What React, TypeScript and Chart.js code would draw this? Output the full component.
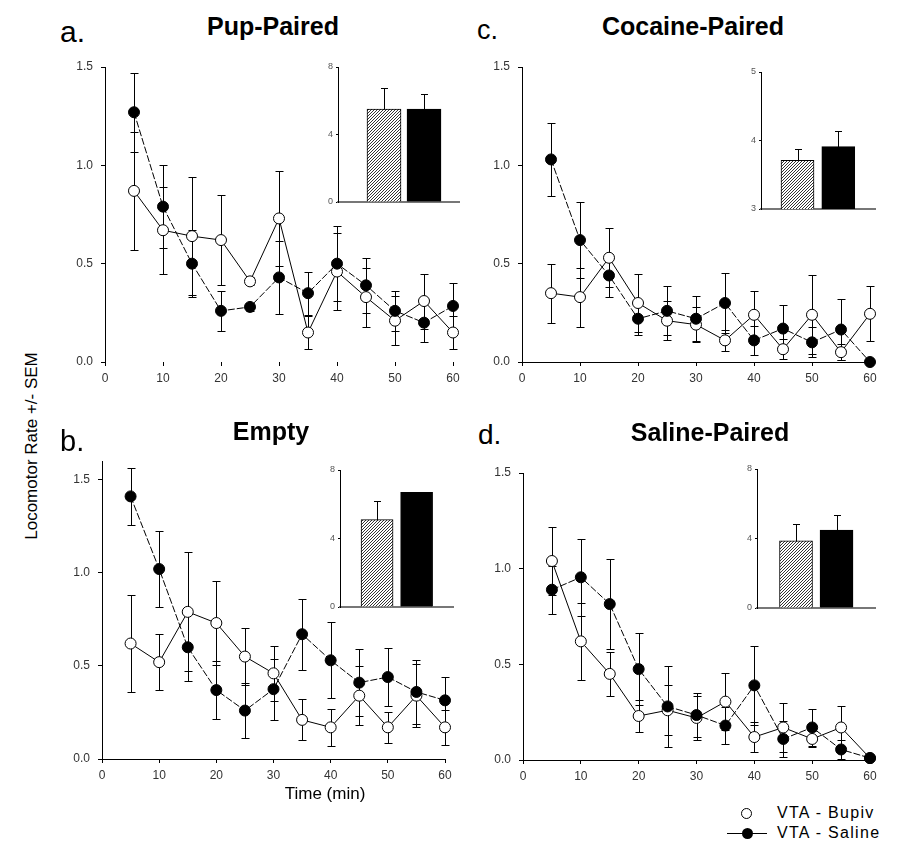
import React, { useEffect, useRef } from 'react';
import { Chart, registerables } from 'chart.js';

Chart.register(...registerables);

// ---------- data ----------
const times = [5, 10, 15, 20, 25, 30, 35, 40, 45, 50, 55, 60];

// a. Pup-Paired
const bupivA = [0.87, 0.67, 0.64, 0.62, 0.41, 0.73, 0.15, 0.46, 0.33, 0.21, 0.31, 0.15];
const bupivAErr = [0.3, 0.22, 0.3, 0.23, 0.02, 0.24, 0.085, 0.195, 0.15, 0.125, 0.14, 0.085];
const salineA = [1.27, 0.79, 0.5, 0.26, 0.28, 0.43, 0.35, 0.5, 0.39, 0.26, 0.2, 0.285];
const salineAErr = [0.2, 0.21, 0.17, 0.1, 0.02, 0.185, 0.11, 0.19, 0.14, 0.1, 0.1, 0.115];

// c. Cocaine-Paired
const bupivC = [0.35, 0.33, 0.53, 0.3, 0.21, 0.19, 0.11, 0.24, 0.065, 0.24, 0.05, 0.245];
const bupivCErr = [0.15, 0.15, 0.15, 0.146, 0.1, 0.09, 0.055, 0.12, 0.05, 0.2, 0.04, 0.14];
const salineC = [1.03, 0.62, 0.44, 0.22, 0.26, 0.22, 0.3, 0.11, 0.17, 0.1, 0.165, 0.0];
const salineCErr = [0.185, 0.195, 0.11, 0.085, 0.124, 0.115, 0.152, 0.075, 0.12, 0.077, 0.155, 0.0];

// b. Empty
const bupivB = [0.62, 0.52, 0.79, 0.73, 0.55, 0.46, 0.21, 0.17, 0.34, 0.17, 0.34, 0.17];
const bupivBErr = [0.26, 0.15, 0.32, 0.225, 0.155, 0.148, 0.11, 0.1, 0.16, 0.085, 0.17, 0.095];
const salineB = [1.41, 1.02, 0.6, 0.37, 0.26, 0.375, 0.67, 0.53, 0.41, 0.44, 0.36, 0.315];
const salineBErr = [0.155, 0.205, 0.18, 0.155, 0.148, 0.163, 0.19, 0.205, 0.18, 0.155, 0.17, 0.125];

// d. Saline-Paired
const bupivD = [1.04, 0.62, 0.45, 0.23, 0.26, 0.22, 0.305, 0.12, 0.17, 0.11, 0.17, 0.01];
const bupivDErr = [0.18, 0.2, 0.115, 0.085, 0.13, 0.115, 0.15, 0.078, 0.126, 0.04, 0.11, 0.0];
const salineD = [0.89, 0.955, 0.815, 0.475, 0.28, 0.235, 0.18, 0.39, 0.11, 0.17, 0.055, 0.01];
const salineDErr = [0.125, 0.2, 0.235, 0.19, 0.21, 0.115, 0.096, 0.205, 0.093, 0.095, 0.05, 0.0];

// inset bars: [VTA - Bupiv, VTA - Saline]
const insetA = [5.5, 5.5];
const insetAErr = [1.25, 0.9];
const insetB = [5.1, 6.7];
const insetBErr = [1.1, 0];
const insetC = [3.71, 3.91];
const insetCErr = [0.16, 0.23];
const insetD = [3.86, 4.49];
const insetDErr = [0.97, 0.86];

const FONT = 'Arial, "Liberation Sans", Helvetica, sans-serif';

// ---------- plugins ----------
const errorBarPlugin = {
  id: 'errorBars',
  draw(chart: any) {
    const ctx = chart.ctx;
    const ys = chart.scales.y;
    const opts = chart.options.plugins.errorBars || {};
    const half = opts.cap || 4;
    chart.data.datasets.forEach((ds: any, i: number) => {
      const errs = ds.errors;
      if (!errs) return;
      const meta = chart.getDatasetMeta(i);
      ctx.save();
      ctx.strokeStyle = '#000';
      ctx.lineWidth = 1;
      meta.data.forEach((el: any, j: number) => {
        const raw = ds.data[j];
        const v = typeof raw === 'number' ? raw : raw.y;
        const e = errs[j];
        if (!e) return;
        const x = Math.round(el.x) + 0.5;
        const yTop = Math.round(ys.getPixelForValue(v + e)) + 0.5;
        const yBot = Math.round(opts.upOnly ? ys.getPixelForValue(v) : ys.getPixelForValue(v - e)) + 0.5;
        ctx.beginPath();
        ctx.moveTo(x, yTop);
        ctx.lineTo(x, yBot);
        ctx.moveTo(x - half, yTop);
        ctx.lineTo(x + half, yTop);
        if (!opts.upOnly) {
          ctx.moveTo(x - half, yBot);
          ctx.lineTo(x + half, yBot);
        }
        ctx.stroke();
      });
      ctx.restore();
    });
  },
  beforeDatasetsDraw(chart: any) {
    const opts = chart.options.plugins.errorBars || {};
    if (!opts.after) errorBarPlugin.draw(chart);
  },
  afterDatasetsDraw(chart: any) {
    const opts = chart.options.plugins.errorBars || {};
    if (opts.after) errorBarPlugin.draw(chart);
  },
};

function makeHatch(): any {
  const c = document.createElement('canvas');
  c.width = 3;
  c.height = 3;
  const g = c.getContext('2d')!;
  g.fillStyle = '#fff';
  g.fillRect(0, 0, 3, 3);
  g.strokeStyle = '#333';
  g.lineWidth = 1;
  g.beginPath();
  g.moveTo(0, 3);
  g.lineTo(3, 0);
  g.moveTo(-1, 1);
  g.lineTo(1, -1);
  g.moveTo(2, 4);
  g.lineTo(4, 2);
  g.stroke();
  return g.createPattern(c, 'repeat');
}

type Area = { left: number; right: number; top: number; bottom: number };

// ---------- main panel ----------
const YW = 45, XH = 30, PT = 10, PR = 15;

function MainPanel(props: {
  area: Area; yMax: number; xBorder: boolean;
  bupiv: number[]; bupivErr: number[]; saline: number[]; salineErr: number[];
}) {
  const ref = useRef<HTMLCanvasElement>(null);
  const { area } = props;
  const w = area.right - area.left + YW + PR;
  const h = area.bottom - area.top + PT + XH;
  useEffect(() => {
    const chart = new Chart(ref.current as HTMLCanvasElement, {
      type: 'line',
      data: {
        datasets: [
          {
            label: 'VTA - Saline',
            data: times.map((t, i) => ({ x: t, y: props.saline[i] })),
            errors: props.salineErr,
            borderColor: '#000',
            borderWidth: 1,
            borderDash: [7, 2],
            pointRadius: 5.5,
            pointBackgroundColor: '#000',
            pointBorderColor: '#000',
            pointBorderWidth: 1,
            tension: 0,
            clip: false,
          } as any,
          {
            label: 'VTA - Bupiv',
            data: times.map((t, i) => ({ x: t, y: props.bupiv[i] })),
            errors: props.bupivErr,
            borderColor: '#000',
            borderWidth: 1,
            pointRadius: 5.5,
            pointBackgroundColor: '#fff',
            pointBorderColor: '#000',
            pointBorderWidth: 1,
            tension: 0,
            clip: false,
          } as any,
        ],
      },
      options: {
        animation: false,
        responsive: false,
        devicePixelRatio: 1,
        layout: { padding: { left: 0, top: PT, right: PR, bottom: 0 } },
        plugins: {
          legend: { display: false },
          tooltip: { enabled: false },
          errorBars: { cap: 4 },
        } as any,
        scales: {
          x: {
            type: 'linear',
            min: 0,
            max: 60,
            ticks: { stepSize: 10, color: '#333', font: { family: FONT, size: 12 }, padding: 5, maxRotation: 0, autoSkip: false },
            grid: { drawOnChartArea: false, drawTicks: true, tickLength: 4, color: '#000' },
            border: { display: props.xBorder, color: '#000', width: 1 },
            afterFit: (s: any) => { s.height = XH; s.paddingLeft = 0; s.paddingRight = 0; },
          },
          y: {
            type: 'linear',
            min: 0,
            max: props.yMax,
            ticks: {
              stepSize: 0.5,
              color: '#333',
              font: { family: FONT, size: 12 },
              padding: 8,
              callback: (v: any) => Number(v).toFixed(1),
            },
            grid: { drawOnChartArea: false, drawTicks: true, tickLength: 4, color: '#000' },
            border: { display: true, color: '#000', width: 1 },
            afterBuildTicks: (s: any) => {
              s.ticks = s.ticks.filter((t: any) => Math.abs(t.value * 2 - Math.round(t.value * 2)) < 1e-6);
            },
            afterFit: (s: any) => { s.width = YW; s.paddingTop = 0; s.paddingBottom = 0; },
          },
        },
      } as any,
      plugins: [errorBarPlugin as any],
    });
    return () => chart.destroy();
  }, []);
  return (
    <canvas
      ref={ref}
      width={w}
      height={h}
      style={{ position: 'absolute', left: area.left - YW, top: area.top - PT, width: w, height: h }}
    />
  );
}

// ---------- inset ----------
const IYW = 20, IXH = 4, IPT = 6, IPR = 2;

function Inset(props: {
  area: Area; xMin: number; xMax: number; yMin: number; yMax: number; yStep: number;
  values: number[]; errors: number[]; barThickness: number;
}) {
  const ref = useRef<HTMLCanvasElement>(null);
  const { area } = props;
  const w = area.right - area.left + IYW + IPR;
  const h = area.bottom - area.top + IPT + IXH;
  useEffect(() => {
    const hatch = makeHatch();
    const chart = new Chart(ref.current as HTMLCanvasElement, {
      type: 'bar',
      data: {
        datasets: [
          {
            data: props.values.map((v, i) => ({ x: i + 1, y: v })),
            errors: props.errors,
            backgroundColor: [hatch, '#000'],
            borderColor: '#000',
            borderWidth: 1,
            barThickness: props.barThickness,
          } as any,
        ],
      },
      options: {
        animation: false,
        responsive: false,
        devicePixelRatio: 1,
        layout: { padding: { left: 0, top: IPT, right: IPR, bottom: 0 } },
        plugins: {
          legend: { display: false },
          tooltip: { enabled: false },
          errorBars: { cap: 3.5, upOnly: true, after: true },
        } as any,
        scales: {
          x: {
            type: 'linear',
            offset: false,
            min: props.xMin,
            max: props.xMax,
            ticks: { display: false, stepSize: 1 },
            grid: { display: false, offset: false },
            border: { display: true, color: '#777', width: 2 },
            afterFit: (s: any) => { s.height = IXH; s.paddingLeft = 0; s.paddingRight = 0; },
          },
          y: {
            type: 'linear',
            min: props.yMin,
            max: props.yMax,
            ticks: { stepSize: props.yStep, color: '#555', font: { family: FONT, size: 9 }, padding: 3 },
            grid: { drawOnChartArea: false, drawTicks: true, tickLength: 2, color: '#000' },
            border: { display: true, color: '#000', width: 1 },
            afterFit: (s: any) => { s.width = IYW; s.paddingTop = 0; s.paddingBottom = 0; },
          },
        },
      } as any,
      plugins: [errorBarPlugin as any],
    });
    return () => chart.destroy();
  }, []);
  return (
    <canvas
      ref={ref}
      width={w}
      height={h}
      style={{ position: 'absolute', left: area.left - IYW, top: area.top - IPT, width: w, height: h }}
    />
  );
}

// ---------- text helpers ----------
function Txt(props: { text: string; x: number; baseline: number; size: number; bold?: boolean; align?: 'left' | 'center'; spacing?: number }) {
  const { text, x, baseline, size, bold, align, spacing } = props;
  const top = baseline - 0.8465 * size;
  const style: any = {
    position: 'absolute',
    top,
    fontFamily: FONT,
    fontSize: size,
    lineHeight: `${size}px`,
    fontWeight: bold ? 'bold' : 'normal',
    whiteSpace: 'nowrap',
    color: '#000',
    letterSpacing: spacing ? `${spacing}px` : 'normal',
  };
  if (align === 'center') {
    style.left = x - 200;
    style.width = 400;
    style.textAlign = 'center';
  } else {
    style.left = x;
  }
  return <div style={style}>{text}</div>;
}

export default function App() {
  return (
    <div style={{ position: 'absolute', left: 0, top: 0, width: 908, height: 851, background: '#fff', overflow: 'hidden' }}>
      <MainPanel area={{ left: 105, right: 453, top: 67, bottom: 362 }} yMax={1.5} xBorder={false}
        bupiv={bupivA} bupivErr={bupivAErr} saline={salineA} salineErr={salineAErr} />
      <MainPanel area={{ left: 522, right: 870, top: 67, bottom: 362 }} yMax={1.5} xBorder={true}
        bupiv={bupivC} bupivErr={bupivCErr} saline={salineC} salineErr={salineCErr} />
      <MainPanel area={{ left: 102, right: 445, top: 461, bottom: 759 }} yMax={1.6} xBorder={true}
        bupiv={bupivB} bupivErr={bupivBErr} saline={salineB} salineErr={salineBErr} />
      <MainPanel area={{ left: 523, right: 870, top: 473, bottom: 760 }} yMax={1.5} xBorder={true}
        bupiv={bupivD} bupivErr={bupivDErr} saline={salineD} salineErr={salineDErr} />

      <Inset area={{ left: 338, right: 459, top: 67, bottom: 202 }} xMin={-0.15} xMax={2.875} yMin={0} yMax={8} yStep={4}
        values={insetA} errors={insetAErr} barThickness={34} />
      <Inset area={{ left: 761, right: 875, top: 72, bottom: 209 }} xMin={0.105} xMax={2.9} yMin={3} yMax={5} yStep={1}
        values={insetC} errors={insetCErr} barThickness={33} />
      <Inset area={{ left: 340, right: 453, top: 470, bottom: 607 }} xMin={0.063} xMax={2.92} yMin={0} yMax={8} yStep={4}
        values={insetB} errors={insetBErr} barThickness={32} />
      <Inset area={{ left: 757, right: 875, top: 469, bottom: 608 }} xMin={0.037} xMax={2.95} yMin={0} yMax={8} yStep={4}
        values={insetD} errors={insetDErr} barThickness={33} />

      <Txt text="a." x={60} baseline={42} size={30} />
      <Txt text="c." x={477} baseline={40} size={27} />
      <Txt text="b." x={60} baseline={452} size={29} />
      <Txt text="d." x={478} baseline={445} size={28} />

      <Txt text="Pup-Paired" x={273} baseline={35} size={25} bold align="center" />
      <Txt text="Cocaine-Paired" x={693} baseline={35} size={25} bold align="center" />
      <Txt text="Empty" x={271} baseline={440} size={25} bold align="center" />
      <Txt text="Saline-Paired" x={710} baseline={441} size={25} bold align="center" />

      <div style={{
        position: 'absolute', left: 32 - 150, top: 446 - 10, width: 300, height: 20, lineHeight: '20px',
        textAlign: 'center', fontFamily: FONT, fontSize: 17, transform: 'rotate(-90deg)', whiteSpace: 'nowrap',
      }}>Locomotor Rate +/- SEM</div>

      <Txt text="Time (min)" x={325} baseline={799} size={17} align="center" />

      {/* legend */}
      <div style={{ position: 'absolute', left: 741, top: 808, width: 11, height: 11, borderRadius: '50%', border: '1px solid #000', boxSizing: 'border-box', background: '#fff' }} />
      <Txt text="VTA - Bupiv" x={777} baseline={819} size={16} spacing={1.3} />
      <div style={{ position: 'absolute', left: 727, top: 833, width: 40, height: 1, background: '#000' }} />
      <div style={{ position: 'absolute', left: 742, top: 828, width: 11, height: 11, borderRadius: '50%', background: '#000' }} />
      <Txt text="VTA - Saline" x={777} baseline={839} size={16} spacing={1.3} />
    </div>
  );
}
